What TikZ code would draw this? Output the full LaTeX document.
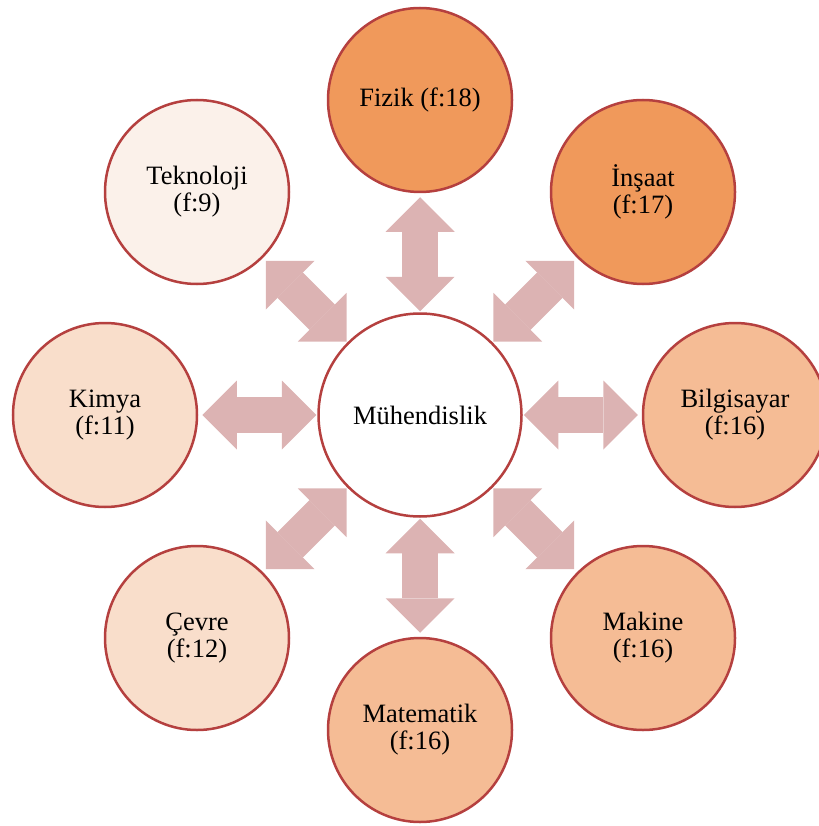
\documentclass[tikz,border=0pt]{standalone}
\usepackage{fontspec}
\setmainfont{Liberation Serif}
\usetikzlibrary{arrows.meta}
\definecolor{kenar}{HTML}{B5403F}
\definecolor{koyu}{HTML}{F0995B}
\definecolor{orta}{HTML}{F5BC95}
\definecolor{acik}{HTML}{F9DECB}
\definecolor{soluk}{HTML}{FBF1EA}
\definecolor{okrenk}{HTML}{DCB3B3}
\begin{document}
\begin{tikzpicture}[x=1pt,y=-1pt,
    konu/.style={circle,draw=kenar,line width=2.5pt,minimum size=184pt,inner sep=0pt,
      align=center,font=\fontsize{26.5}{27}\selectfont},
    ciftok/.style={draw=okrenk,line width=36pt,
      {Triangle[width=69pt,length=34.5pt,line width=0pt]}-{Triangle[width=69pt,length=34.5pt,line width=0pt]},
      shorten <=1pt,shorten >=4pt}]
    \useasboundingbox (0,0) rectangle (818,826);
    % merkez ve dallar
    \node[konu,fill=white,minimum size=203pt] (merkez) at (420,415) {M\"uhendislik};
    \node[konu,fill=koyu] (fizik) at (420,100) {Fizik (f:18)};
    \node[konu,fill=koyu] (insaat) at (643,192) {\.In\c{s}aat\\(f:17)};
    \node[konu,fill=orta] (bilgisayar) at (735,415) {Bilgisayar\\(f:16)};
    \node[konu,fill=orta] (makine) at (643,638) {Makine\\(f:16)};
    \node[konu,fill=orta] (matematik) at (420,730) {Matematik\\(f:16)};
    \node[konu,fill=acik] (cevre) at (197,638) {\c{C}evre\\(f:12)};
    \node[konu,fill=acik] (kimya) at (105,415) {Kimya\\(f:11)};
    \node[konu,fill=soluk] (teknoloji) at (197,192) {Teknoloji\\(f:9)};
    % oklar
    \draw[ciftok] (merkez) -- (fizik);
    \draw[ciftok] (merkez) -- (insaat);
    \draw[ciftok] (merkez) -- (bilgisayar);
    \draw[ciftok] (merkez) -- (makine);
    \draw[ciftok] (merkez) -- (matematik);
    \draw[ciftok] (merkez) -- (cevre);
    \draw[ciftok] (merkez) -- (kimya);
    \draw[ciftok] (merkez) -- (teknoloji);
\end{tikzpicture}
\end{document}
